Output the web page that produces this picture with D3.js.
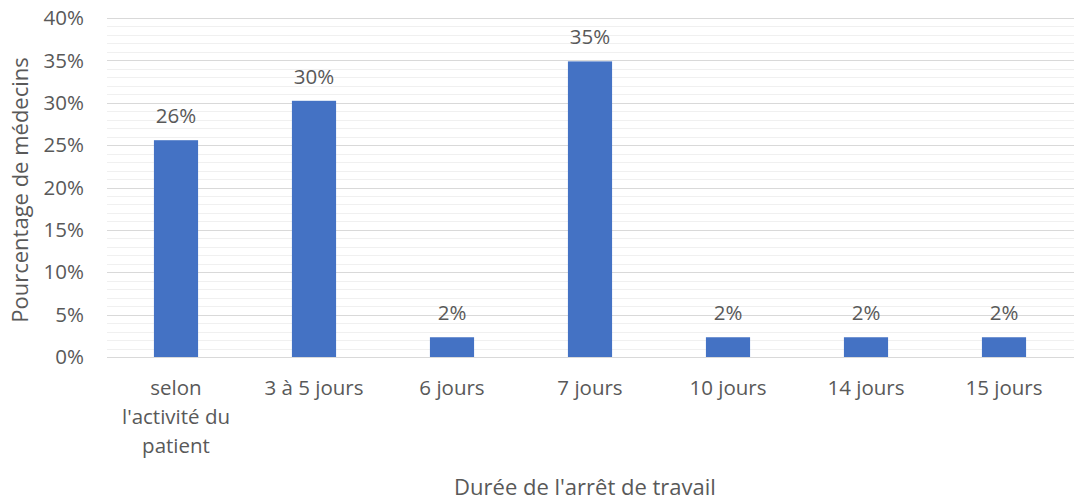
<!DOCTYPE html>
<html lang="fr">
<head>
<meta charset="UTF-8">
<title>Durée de l'arrêt de travail</title>
<script src="https://d3js.org/d3.v7.min.js"></script>
<style>
  body { margin: 0; background: #fff; font-family: "Open Sans", Lato, sans-serif; }
  text { fill: #595959; }
</style>
</head>
<body>
<svg id="chart" width="1074" height="503"></svg>
<script>
// data (share of 43 doctors)
const categories = [
  ["selon", "l'activité du", "patient"],
  ["3 à 5 jours"],
  ["6 jours"],
  ["7 jours"],
  ["10 jours"],
  ["14 jours"],
  ["15 jours"]
];
const values = [0.2558, 0.3023, 0.0233, 0.3488, 0.0233, 0.0233, 0.0233];
const labels = ["26%", "30%", "2%", "35%", "2%", "2%", "2%"];
const yTicks = [0, 0.05, 0.10, 0.15, 0.20, 0.25, 0.30, 0.35, 0.40];

const svg = d3.select('#chart');
const plotLeft = 107, plotRight = 1073, plotTop = 18, plotBottom = 357;

const x = d3.scaleBand()
  .domain(d3.range(categories.length))
  .range([plotLeft, plotRight])
  .paddingInner(0.68)
  .paddingOuter(0.34);

const y = d3.scaleLinear().domain([0, 0.4]).range([plotBottom, plotTop]);

// minor gridlines every 1%
svg.append('g').selectAll('line')
  .data(d3.range(0, 41).filter(d => d % 5 !== 0).map(d => d / 100))
  .enter().append('line')
  .attr('x1', plotLeft).attr('x2', 1074)
  .attr('y1', d => Math.round(y(d)) + 0.5).attr('y2', d => Math.round(y(d)) + 0.5)
  .attr('stroke', '#f0f0f0').attr('stroke-width', 1);

// major gridlines
svg.append('g').selectAll('line')
  .data(yTicks)
  .enter().append('line')
  .attr('x1', plotLeft).attr('x2', 1074)
  .attr('y1', d => Math.round(y(d)) + 0.5).attr('y2', d => Math.round(y(d)) + 0.5)
  .attr('stroke', '#d9d9d9').attr('stroke-width', 1);

// y tick labels
svg.append('g').selectAll('text')
  .data(yTicks)
  .enter().append('text')
  .attr('x', 84).attr('y', d => y(d))
  .attr('dy', '0.35em')
  .attr('text-anchor', 'end')
  .style('font-size', '20.5px')
  .text(d => d3.format('.0%')(d));

// bars
svg.append('g').selectAll('rect')
  .data(values)
  .enter().append('rect')
  .attr('x', (d, i) => x(i))
  .attr('width', x.bandwidth())
  .attr('y', d => y(d))
  .attr('height', d => y(0) - y(d))
  .attr('fill', '#4472c4');

// value labels
svg.append('g').selectAll('text')
  .data(values)
  .enter().append('text')
  .attr('x', (d, i) => x(i) + x.bandwidth() / 2)
  .attr('y', d => y(d) - 17)
  .attr('text-anchor', 'middle')
  .style('font-size', '20.5px')
  .text((d, i) => labels[i]);

// category labels
const cat = svg.append('g').selectAll('text')
  .data(categories)
  .enter().append('text')
  .attr('text-anchor', 'middle')
  .style('font-size', '20.5px')
  .attr('transform', (d, i) => `translate(${x(i) + x.bandwidth() / 2},395)`);
cat.selectAll('tspan')
  .data(d => d)
  .enter().append('tspan')
  .attr('x', 0)
  .attr('y', (d, i) => i * 29)
  .text(d => d);

// axis titles
svg.append('text')
  .attr('x', 585).attr('y', 495)
  .attr('text-anchor', 'middle')
  .style('font-size', '22px')
  .text("Durée de l'arrêt de travail");

svg.append('text')
  .attr('transform', 'translate(28,190) rotate(-90)')
  .attr('text-anchor', 'middle')
  .style('font-size', '22px')
  .text('Pourcentage de médecins');
</script>
</body>
</html>
